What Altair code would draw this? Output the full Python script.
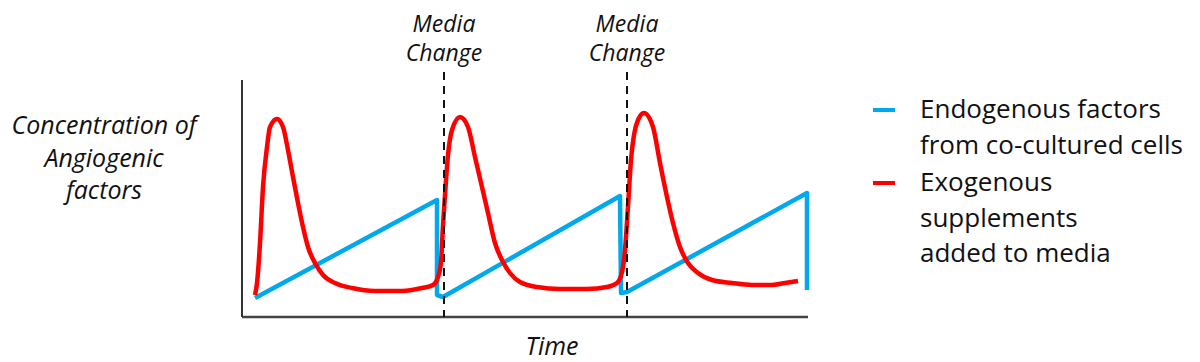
import altair as alt
import pandas as pd

# ---- data (time in arbitrary units, concentration in arbitrary units)
red_t = [13, 15, 18, 21, 25, 28, 35, 41, 46, 51, 56, 61, 66, 73, 81, 93, 110, 133, 160, 180, 191,
         196, 199, 201, 203, 206, 210, 218, 226, 233, 240, 246, 253, 260, 268, 278, 295, 318, 345,
         365, 375, 380, 383, 385, 387, 389, 392, 396, 402, 411, 418, 425, 431, 438, 446, 456, 470,
         490, 510, 530, 543, 556]
red_v = [22, 34, 74, 130, 170, 190, 198, 190, 167, 140, 114, 90, 70, 54, 42, 34, 29, 26, 26, 29, 32,
         40, 55, 92, 122, 162, 187, 200, 190, 160, 130, 104, 74, 57, 44, 35, 30, 28, 28,
         30, 34, 45, 67, 95, 127, 157, 182, 197, 204, 190, 154, 120, 94, 70, 54, 44, 37,
         34, 32, 32, 34, 36]

blue_t = [13, 195, 195, 201, 378, 379, 385, 565, 565]
blue_v = [19, 117, 22, 20, 121, 24, 25, 124, 27]

media_change_t = [202, 385]

series_names = ["Endogenous factors\nfrom co-cultured cells",
                "Exogenous\nsupplements\nadded to media"]
y_label_lines = ["Concentration of", "Angiogenic", "factors"]
x_label = "Time"
media_label_lines = ["Media", "Change"]

BLUE = "#00A8EC"
RED = "#FF0000"
TXT = "#111111"
FONT = "Open Sans"
ITAL_SIZE = 25
MEDIA_SIZE = 23
LEG_SIZE = 26

T_MAX = 566
V_MAX = 245
AXIS_TOP = 237

xs = alt.Scale(domain=[0, T_MAX], nice=False, zero=False)
ys = alt.Scale(domain=[0, V_MAX], nice=False, zero=False)

red_df = pd.DataFrame({"t": red_t, "v": red_v, "i": list(range(len(red_t)))})
blue_df = pd.DataFrame({"t": blue_t, "v": blue_v, "i": list(range(len(blue_t)))})
mc_df = pd.DataFrame({"t": media_change_t})
one = mc_df.head(1)


def X(f="t"):
    return alt.X(f"{f}:Q", scale=xs, axis=None)


def Y(f="v"):
    return alt.Y(f"{f}:Q", scale=ys, axis=None)


blue = alt.Chart(blue_df).mark_line(color=BLUE, strokeWidth=4.5, strokeJoin="round").encode(
    x=X(), y=Y(), order="i:Q")
red = alt.Chart(red_df).mark_line(color=RED, strokeWidth=4.5, interpolate="monotone",
                                  strokeJoin="round").encode(x=X(), y=Y(), order="i:Q")

yaxis = alt.Chart(pd.DataFrame({"t": [0], "v": [0], "v2": [AXIS_TOP]})).mark_rule(
    color="#333333", strokeWidth=2).encode(x=X(), y=Y(), y2="v2:Q")
xaxis = alt.Chart(pd.DataFrame({"t": [0], "t2": [T_MAX], "v": [0]})).mark_rule(
    color="#444444", strokeWidth=2.5).encode(x=X(), x2="t2:Q", y=Y())

dashed = alt.Chart(mc_df).mark_rule(color="#111111", strokeWidth=2, strokeDash=[8, 6]).encode(
    x=X(), y=alt.value(0), y2=alt.value(V_MAX))

layers = [blue, red, xaxis, yaxis, dashed]

# "Media Change" labels above the dashed lines
for line, py in zip(media_label_lines, [-47, -18]):
    layers.append(alt.Chart(mc_df).mark_text(font=FONT, fontSize=MEDIA_SIZE, fontStyle="italic",
                                             color=TXT, align="center", baseline="middle").encode(
        x=X(), y=alt.value(py), text=alt.value(line)))

# y-axis label (left)
for line, py in zip(y_label_lines, [54, 87, 119]):
    layers.append(alt.Chart(one).mark_text(font=FONT, fontSize=ITAL_SIZE, fontStyle="italic",
                                           color=TXT, align="center", baseline="middle").encode(
        x=alt.value(-138), y=alt.value(py), text=alt.value(line)))

# x-axis label
layers.append(alt.Chart(one).mark_text(font=FONT, fontSize=ITAL_SIZE, fontStyle="italic",
                                       color=TXT, align="center", baseline="middle").encode(
    x=alt.value(310), y=alt.value(275), text=alt.value(x_label)))

# legend
legend_colors = [BLUE, RED]
legend_y0 = [38, 111]
line_gap = 35.5
for name, col, y0 in zip(series_names, legend_colors, legend_y0):
    layers.append(alt.Chart(one).mark_rule(color=col, strokeWidth=4).encode(
        x=alt.value(631), x2=alt.value(653), y=alt.value(y0)))
    for k, line in enumerate(name.split("\n")):
        layers.append(alt.Chart(one).mark_text(font=FONT, fontSize=LEG_SIZE, color=TXT,
                                               align="left", baseline="middle").encode(
            x=alt.value(678), y=alt.value(y0 + k * line_gap), text=alt.value(line)))

chart = alt.layer(*layers).properties(
    width=T_MAX, height=V_MAX,
    autosize=alt.AutoSizeParams(type="none"),
    padding={"left": 234, "top": 64, "right": 384, "bottom": 45},
).configure(background="white").configure_view(stroke=None)

chart.save("out.html", embed_options={"renderer": "svg", "actions": False})
